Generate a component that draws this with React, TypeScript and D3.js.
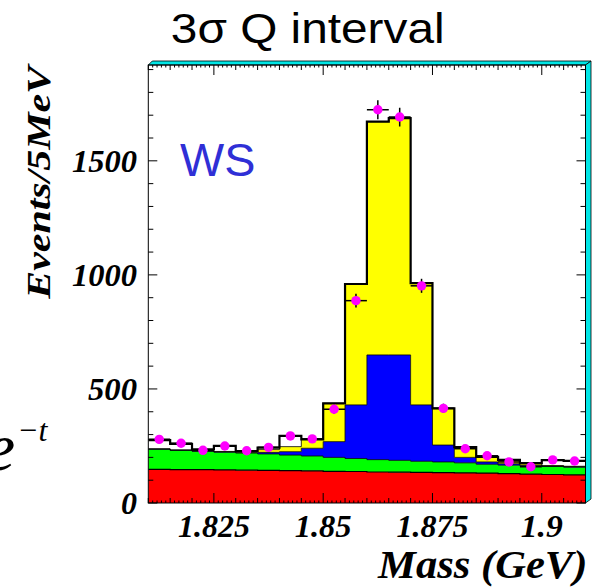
import React from "react";
import * as d3 from "d3";

// ---- data ----
const binEdgesStart = 1.81;
const binWidth = 0.005;
const nBins = 20;
// stacked components (content of each component per bin)
const redVals = [147, 146, 146, 145, 144, 143, 142, 141, 139, 138, 136, 135, 134, 133, 132, 131, 129, 127, 125, 123];
const greenVals = [89, 85, 81, 78, 75, 72, 68, 65, 61, 57, 54, 52, 49, 47, 44, 39, 37, 36, 35, 34];
const blueVals = [1, 1, 1, 1, 2, 7, 15, 34, 69, 235, 459, 462, 247, 74, 24, 10, 6, 3, 2, 2];
const yellowVals = [0, 0, 1, 2, 7, 12, 22, 39, 168, 530, 1023, 1038, 534, 161, 45, 22, 13, 9, 2, 2];
const whiteVals = [39, 27, 6, 24, 0, 9, 47, 0, 0, 0, 0, 0, 0, 0, 0, 0, 4, 0, 24, 24];
// data points
const dataVals = [279, 262, 231, 250, 229, 244, 294, 281, 411, 887, 1724, 1692, 952, 415, 238, 207, 180, 159, 189, 184];
const xTickLabels = ["1.825", "1.85", "1.875", "1.9"];
const yTickLabels = ["0", "500", "1000", "1500"];

const W = 603, H = 588;
const L = 148.3, R = 585.5, T = 65, B = 503;

const SERIF = "'Liberation Serif', 'Times New Roman', serif";
const SANS = "'Liberation Sans', Arial, sans-serif";

let ctx: CanvasRenderingContext2D | null = null;
function inkBox(text: string, font: string) {
  if (!ctx) ctx = document.createElement("canvas").getContext("2d");
  if (!ctx) return { l: 0, r: text.length * 10 };
  ctx.font = font;
  const m = ctx.measureText(text);
  return { l: m.actualBoundingBoxLeft, r: m.actualBoundingBoxRight };
}

// text whose ink is stretched horizontally to a target width
function FitText(props: {
  text: string;
  size: number;
  family: string;
  bold?: boolean;
  italic?: boolean;
  ink: number; // target ink width
  x: number; // anchor
  y: number; // baseline
  anchor: "start" | "middle" | "end";
  fill?: string;
  rotate?: boolean;
}) {
  const { text, size, family, bold, italic, ink, x, y, anchor, fill, rotate } = props;
  const font = `${italic ? "italic " : ""}${bold ? "bold " : ""}${size}px ${family}`;
  const b = inkBox(text, font);
  const w = b.l + b.r;
  const s = w > 0 ? ink / w : 1;
  let inkLeft = x;
  if (anchor === "middle") inkLeft = x - ink / 2;
  if (anchor === "end") inkLeft = x - ink;
  const x0 = inkLeft + b.l * s;
  const el = (
    <text
      transform={`translate(${x0},${y}) scale(${s},1)`}
      style={{
        fontFamily: family,
        fontSize: size,
        fontWeight: bold ? "bold" : "normal",
        fontStyle: italic ? "italic" : "normal",
        fill: fill || "#000",
      }}
    >
      {text}
    </text>
  );
  if (rotate) return <g transform={`rotate(-90)`}>{el}</g>;
  return el;
}

const labelInk: Record<string, number> = {
  "0": 15,
  "500": 49,
  "1000": 65,
  "1500": 65,
  "1.825": 72,
  "1.85": 57,
  "1.875": 72,
  "1.9": 42,
};

export default function App() {
  const x = d3.scaleLinear().domain([1.81, 1.91]).range([L, R]);
  const y = d3.scaleLinear().domain([0, 1920]).range([B, T]);

  const rows = d3.range(nBins).map((i) => ({
    i,
    lo: binEdgesStart + i * binWidth,
    hi: binEdgesStart + (i + 1) * binWidth,
    red: redVals[i],
    green: greenVals[i],
    blue: blueVals[i],
    yellow: yellowVals[i],
    white: whiteVals[i],
  }));
  const keys = ["red", "green", "blue", "yellow", "white"];
  const colors: Record<string, string> = {
    red: "#ff0000",
    green: "#00ff00",
    blue: "#0000ff",
    yellow: "#ffff00",
    white: "none",
  };
  const stack = d3.stack<any>().keys(keys)(rows);

  const stepPts = (vals: number[]) => {
    const pts: [number, number][] = vals.map((v, i) => [binEdgesStart + i * binWidth, v]);
    pts.push([binEdgesStart + nBins * binWidth, vals[vals.length - 1]]);
    return pts;
  };
  const stepLine = (vals: number[]) =>
    d3
      .line<[number, number]>()
      .x((d) => x(d[0]))
      .y((d) => y(d[1]))
      .curve(d3.curveStepAfter)(stepPts(vals)) as string;

  const stepArea = (lo: number[], hi: number[]) => {
    const pts = hi.map((v, i) => ({ e: binEdgesStart + i * binWidth, lo: lo[i], hi: v }));
    pts.push({ e: binEdgesStart + nBins * binWidth, lo: lo[lo.length - 1], hi: hi[hi.length - 1] });
    return d3
      .area<any>()
      .x((d) => x(d.e))
      .y0((d) => y(d.lo))
      .y1((d) => y(d.hi))
      .curve(d3.curveStepAfter)(pts) as string;
  };

  const xSmall = d3.range(101).map((k) => 1.81 + k * 0.001);
  const ySmall = d3.range(0, 1901, 100);

  return (
    <svg width={W} height={H} style={{ position: "absolute", left: 0, top: 0, background: "#fff" }}>
      <defs>
        <clipPath id="plot">
          <rect x={L} y={T} width={R - L} height={B - T} />
        </clipPath>
      </defs>
      {/* title */}
      <FitText text="3σ Q interval" size={42} family={SANS} ink={270} x={172} y={43} anchor="start" />

      {/* 3D frame bevels */}
      <polygon
        points={`${L},${T} ${L + 4},${T - 4} ${R + 5.5},${T - 4} ${R},${T}`}
        fill="#00e6e6"
        stroke="#000"
        strokeWidth={0.8}
      />
      <polygon
        points={`${R},${T} ${R + 5.5},${T - 4} ${R + 5.5},${B - 4} ${R},${B}`}
        fill="#00e6e6"
        stroke="#000"
        strokeWidth={0.8}
      />

      <g clipPath="url(#plot)">
        {stack.map((layer) =>
          colors[layer.key] === "none" ? null : (
            <path
              key={"a" + layer.key}
              d={stepArea(
                layer.map((d: any) => d[0]),
                layer.map((d: any) => d[1])
              )}
              fill={colors[layer.key]}
              stroke="none"
            />
          )
        )}
        {stack.slice(0, 4).map((layer) => (
          <path
            key={"l" + layer.key}
            d={stepLine(layer.map((d: any) => d[1]))}
            fill="none"
            stroke="#000"
            strokeWidth={layer.key === "red" ? 1.2 : 0.8}
          />
        ))}
        <path
          d={stepLine(stack[stack.length - 1].map((d: any) => d[1]))}
          fill="none"
          stroke="#000"
          strokeWidth={2.2}
        />
        {rows.map((r) => {
          const v = dataVals[r.i];
          const cx = x((r.lo + r.hi) / 2);
          const e = Math.sqrt(v);
          return (
            <g key={"p" + r.i}>
              <line x1={x(r.lo)} x2={x(r.hi)} y1={y(v)} y2={y(v)} stroke="#000" strokeWidth={1.5} />
              <line x1={cx} x2={cx} y1={y(v - e)} y2={y(v + e)} stroke="#000" strokeWidth={1.5} />
              <circle cx={cx} cy={y(v)} r={4.7} fill="#ff00ff" />
            </g>
          );
        })}
      </g>

      <rect x={L} y={T} width={R - L} height={B - T} fill="none" stroke="#000" strokeWidth={1} />

      {xSmall.map((v, k) => {
        const len = k % 25 === 15 ? 10 : k % 5 === 0 ? 5 : 2.5;
        const px = x(v);
        return (
          <g key={"xt" + k}>
            <line x1={px} x2={px} y1={B} y2={B - len} stroke="#000" strokeWidth={1} />
            <line x1={px} x2={px} y1={T} y2={T + len} stroke="#000" strokeWidth={1} />
          </g>
        );
      })}
      {ySmall.map((v) => {
        const len = v % 500 === 0 ? 9 : 5;
        const py = y(v);
        return (
          <g key={"yt" + v}>
            <line x1={L} x2={L + len} y1={py} y2={py} stroke="#000" strokeWidth={1} />
            <line x1={R} x2={R - len} y1={py} y2={py} stroke="#000" strokeWidth={1} />
          </g>
        );
      })}

      {xTickLabels.map((t) => (
        <FitText
          key={t}
          text={t}
          size={32}
          family={SERIF}
          bold
          italic
          ink={labelInk[t]}
          x={x(+t)}
          y={537}
          anchor="middle"
        />
      ))}
      {yTickLabels.map((t) => (
        <FitText
          key={t}
          text={t}
          size={32}
          family={SERIF}
          bold
          italic
          ink={labelInk[t]}
          x={137}
          y={y(+t) + 11}
          anchor="end"
        />
      ))}

      <FitText text="Mass (GeV)" size={40} family={SERIF} bold italic ink={208} x={585} y={578} anchor="end" />
      <FitText
        text="Events/5MeV"
        size={34}
        family={SERIF}
        bold
        italic
        ink={237}
        x={-63}
        y={50}
        anchor="end"
        rotate
      />

      <FitText text="WS" size={47} family={SANS} ink={74} x={180} y={176} anchor="start" fill="#2f2fd6" />

      {/* formula fragment at the left edge (partly outside the picture, as in the reference) */}
      <text x={-15} y={470} style={{ fontFamily: SERIF, fontStyle: "italic", fontSize: 68 }}>
        e
      </text>
      <text x={17} y={441} style={{ fontFamily: SERIF, fontStyle: "italic", fontSize: 32 }}>
        −t
      </text>
    </svg>
  );
}
